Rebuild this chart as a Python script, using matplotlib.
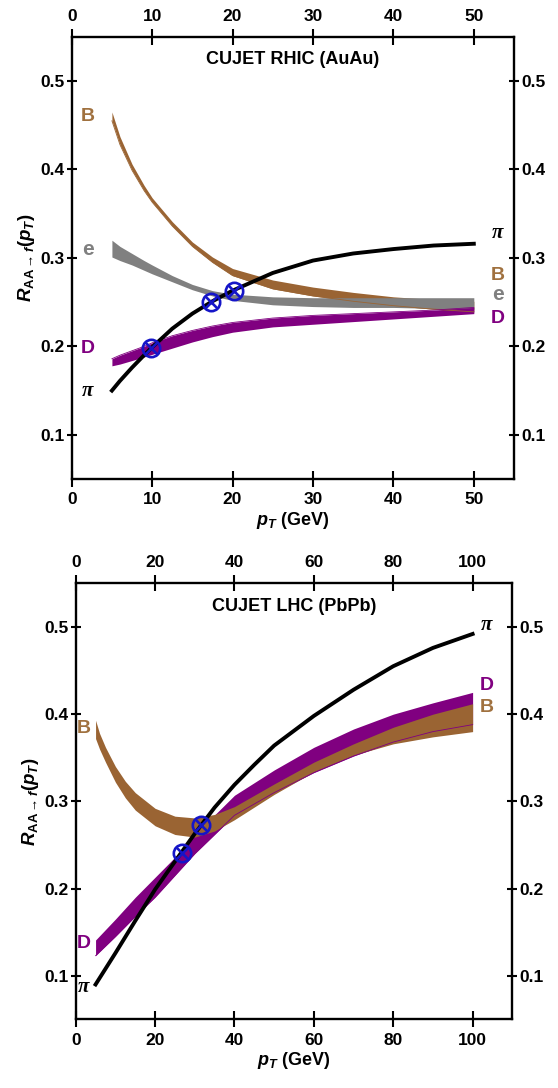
import matplotlib
matplotlib.use('Agg')
import matplotlib.pyplot as plt

plt.rcParams['font.family'] = ['Liberation Sans', 'DejaVu Sans']
plt.rcParams['font.weight'] = 'bold'
plt.rcParams['mathtext.fontset'] = 'custom'
plt.rcParams['mathtext.rm'] = 'Liberation Sans:bold'
plt.rcParams['mathtext.it'] = 'Liberation Sans:italic:bold'
plt.rcParams['mathtext.bf'] = 'Liberation Sans:bold'

BROWN = '#9a6433'
BROWN_TXT = '#a0713f'
GRAY = '#808080'
PURPLE = '#800080'
BLUE = '#1515c8'

# ---- RHIC (AuAu) panel ----
rhic_pt = [5, 6, 7.5, 9, 10, 12.5, 15, 17.5, 20, 25, 30, 35, 40, 45, 50]
rhic_pi = [0.150, 0.161, 0.176, 0.190, 0.199, 0.220, 0.237, 0.251, 0.263, 0.283, 0.297, 0.305, 0.310, 0.314, 0.316]
rhic_B_lo = [0.455, 0.428, 0.399, 0.376, 0.363, 0.336, 0.313, 0.295, 0.280, 0.265, 0.257, 0.251, 0.246, 0.242, 0.239]
rhic_B_hi = [0.465, 0.437, 0.406, 0.382, 0.368, 0.341, 0.318, 0.301, 0.288, 0.275, 0.267, 0.261, 0.256, 0.253, 0.251]
rhic_e_lo = [0.301, 0.297, 0.292, 0.286, 0.282, 0.273, 0.264, 0.257, 0.252, 0.247, 0.245, 0.244, 0.244, 0.243, 0.242]
rhic_e_hi = [0.320, 0.313, 0.305, 0.297, 0.292, 0.280, 0.270, 0.263, 0.259, 0.256, 0.255, 0.255, 0.255, 0.255, 0.255]
rhic_D_lo = [0.178, 0.180, 0.184, 0.188, 0.191, 0.198, 0.205, 0.211, 0.216, 0.222, 0.225, 0.228, 0.231, 0.234, 0.237]
rhic_D_hi = [0.186, 0.190, 0.195, 0.200, 0.204, 0.212, 0.218, 0.223, 0.227, 0.232, 0.235, 0.237, 0.239, 0.241, 0.244]
rhic_cross_pt = [9.9, 17.3, 20.2]
rhic_cross_r = [0.198, 0.250, 0.263]

# ---- LHC (PbPb) panel ----
lhc_pi_pt = [5, 10, 15, 20, 25, 30, 35, 40, 45, 50, 60, 70, 80, 90, 100]
lhc_pi = [0.090, 0.126, 0.163, 0.199, 0.231, 0.263, 0.293, 0.319, 0.342, 0.364, 0.398, 0.428, 0.455, 0.476, 0.492]
lhc_B_pt = [5, 6, 7.5, 10, 12.5, 15, 20, 25, 30, 35, 40, 50, 60, 70, 80, 90, 100]
lhc_B_lo = [0.372, 0.360, 0.345, 0.322, 0.304, 0.290, 0.272, 0.262, 0.259, 0.266, 0.279, 0.308, 0.334, 0.353, 0.366, 0.374, 0.380]
lhc_B_hi = [0.393, 0.378, 0.362, 0.340, 0.323, 0.310, 0.292, 0.283, 0.281, 0.285, 0.294, 0.320, 0.345, 0.366, 0.385, 0.400, 0.412]
lhc_D_pt = [5, 10, 15, 20, 25, 30, 40, 50, 60, 70, 80, 90, 100]
lhc_D_lo = [0.123, 0.145, 0.168, 0.190, 0.215, 0.240, 0.284, 0.310, 0.333, 0.352, 0.368, 0.380, 0.388]
lhc_D_hi = [0.141, 0.165, 0.190, 0.213, 0.236, 0.262, 0.307, 0.336, 0.362, 0.383, 0.400, 0.413, 0.425]
lhc_cross_pt = [26.7, 31.6]
lhc_cross_r = [0.241, 0.273]

fig = plt.figure(figsize=(5.58, 10.88), dpi=100)
ax1 = fig.add_axes([0.1285, 0.5597, 0.7927, 0.4065])
ax2 = fig.add_axes([0.1357, 0.0631, 0.7824, 0.4007])

PI_FONT = ['Liberation Serif', 'DejaVu Serif']


def style_axes(ax, xmax, xstep):
    ax.set_xlim(0, xmax)
    ax.set_ylim(0.05, 0.55)
    ax.set_xticks(range(0, int(xmax - xstep / 2) + 1, xstep))
    ax.set_yticks([0.1, 0.2, 0.3, 0.4, 0.5])
    ax.set_yticklabels(['0.1', '0.2', '0.3', '0.4', '0.5'])
    for s in ax.spines.values():
        s.set_linewidth(1.7)
    ax.tick_params(axis='x', which='both', direction='inout', length=11, width=1.5,
                   top=True, labeltop=True, bottom=True, labelbottom=True,
                   labelsize=12.5, pad=4)
    ax.tick_params(axis='y', which='both', direction='inout', length=7.5, width=1.5,
                   left=True, labelleft=True, right=True, labelright=True,
                   labelsize=12.5, pad=1.5)
    ax.set_xlabel(r'$p_T\ \mathbf{(GeV)}$', fontsize=13, labelpad=2)
    ax.set_ylabel(r'$R_{\mathbf{AA}\rightarrow f}(p_T)$', fontsize=13.5, labelpad=2)


def crosses(ax, xs, ys):
    ax.plot(xs, ys, 'o', ms=12.5, mfc='none', mec=BLUE, mew=1.9, zorder=6)
    ax.plot(xs, ys, 'x', ms=8.5, mec=BLUE, mew=1.9, zorder=6)


def pi_label(ax, x, y):
    ax.text(x, y, 'π', color='black', fontsize=15, ha='center', va='center',
            family=PI_FONT, style='italic', weight='bold')


# RHIC
ax1.fill_between(rhic_pt, rhic_B_lo, rhic_B_hi, color=BROWN, lw=0, zorder=2)
ax1.fill_between(rhic_pt, rhic_e_lo, rhic_e_hi, color=GRAY, lw=0, zorder=3)
ax1.fill_between(rhic_pt, rhic_D_lo, rhic_D_hi, color=PURPLE, lw=0, zorder=4)
ax1.plot(rhic_pt, rhic_B_lo, color=BROWN, lw=0.6, zorder=4)
ax1.plot(rhic_pt, rhic_D_hi, color=PURPLE, lw=0.6, zorder=4)
ax1.plot(rhic_pt, rhic_pi, color='black', lw=2.8, zorder=5)
crosses(ax1, rhic_cross_pt, rhic_cross_r)
ax1.text(0.5, 0.948, 'CUJET RHIC (AuAu)', transform=ax1.transAxes, ha='center', va='center', fontsize=13)
style_axes(ax1, 55, 10)

ax1.text(2.0, 0.460, 'B', color=BROWN_TXT, fontsize=14, ha='center', va='center')
ax1.text(2.0, 0.309, 'e', color=GRAY, fontsize=15, ha='center', va='center')
ax1.text(2.0, 0.198, 'D', color=PURPLE, fontsize=14, ha='center', va='center')
pi_label(ax1, 2.0, 0.149)
pi_label(ax1, 53.0, 0.328)
ax1.text(53.0, 0.280, 'B', color=BROWN_TXT, fontsize=14, ha='center', va='center')
ax1.text(53.0, 0.259, 'e', color=GRAY, fontsize=15, ha='center', va='center')
ax1.text(53.0, 0.231, 'D', color=PURPLE, fontsize=14, ha='center', va='center')

# LHC
ax2.fill_between(lhc_D_pt, lhc_D_lo, lhc_D_hi, color=PURPLE, lw=0, zorder=2)
ax2.fill_between(lhc_B_pt, lhc_B_lo, lhc_B_hi, color=BROWN, lw=0, zorder=3)
ax2.plot(lhc_D_pt, lhc_D_lo, color=PURPLE, lw=0.6, zorder=4)
ax2.plot(lhc_pi_pt, lhc_pi, color='black', lw=2.8, zorder=5)
crosses(ax2, lhc_cross_pt, lhc_cross_r)
ax2.text(0.5, 0.948, 'CUJET LHC (PbPb)', transform=ax2.transAxes, ha='center', va='center', fontsize=13)
style_axes(ax2, 110, 20)

ax2.text(2.0, 0.384, 'B', color=BROWN_TXT, fontsize=14, ha='center', va='center')
ax2.text(2.0, 0.137, 'D', color=PURPLE, fontsize=14, ha='center', va='center')
pi_label(ax2, 2.0, 0.087)
pi_label(ax2, 103.5, 0.502)
ax2.text(103.5, 0.433, 'D', color=PURPLE, fontsize=14, ha='center', va='center')
ax2.text(103.5, 0.408, 'B', color=BROWN_TXT, fontsize=14, ha='center', va='center')

fig.savefig('out.png', dpi=100)
